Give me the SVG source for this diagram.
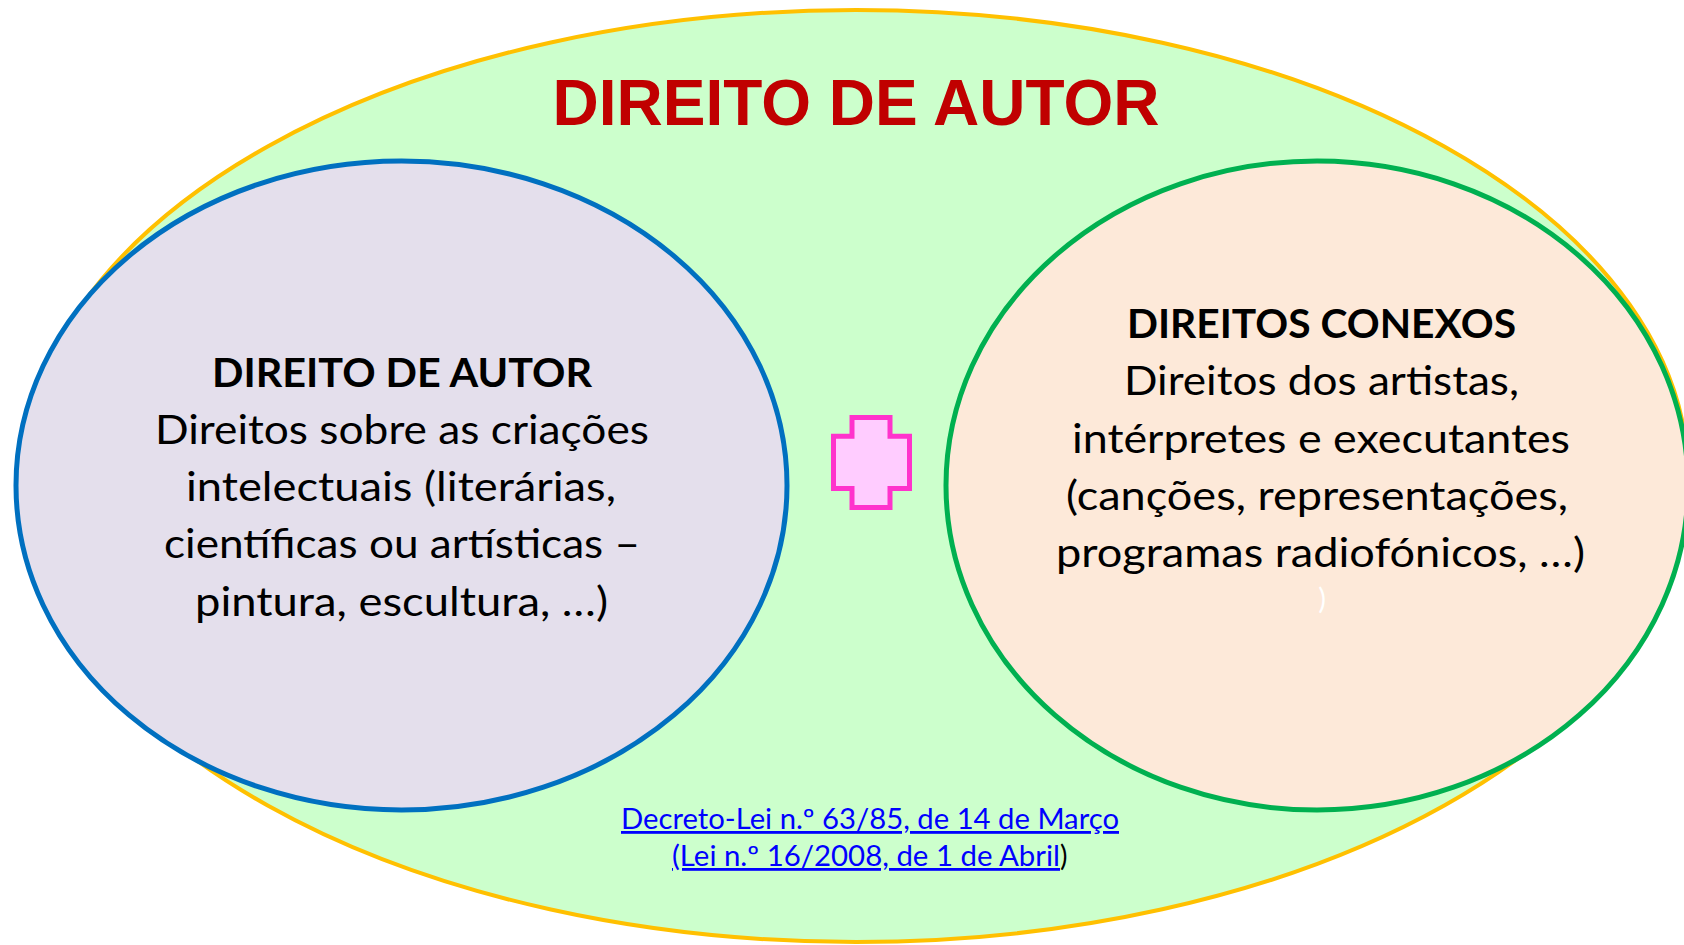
<svg xmlns="http://www.w3.org/2000/svg" width="1684" height="945" viewBox="0 0 1684 945">
<style>
.body{font-family:Lato,"Open Sans","Liberation Sans",sans-serif;font-size:40px;fill:#000000}
.bold{font-weight:700}
.link{font-family:Lato,"Open Sans","Liberation Sans",sans-serif;font-size:28px;fill:#0000FF;text-decoration:underline}
.plain{font-family:Lato,"Open Sans","Liberation Sans",sans-serif;font-size:28px;fill:#000000}
.title{font-family:"Liberation Sans",Arial,sans-serif;font-size:64px;font-weight:700;fill:#C00000}
</style>
<rect x="0" y="0" width="1684" height="945" fill="#FFFFFF"/>
<g id="outer">
<ellipse cx="856" cy="476" rx="832" ry="466" fill="#CCFFCC" stroke="#FFC000" stroke-width="4"/>
<text class="title" x="856" y="125" text-anchor="middle" textLength="607" lengthAdjust="spacingAndGlyphs">DIREITO DE AUTOR</text>
</g>
<g id="connectors"></g>
<g id="direito-autor">
<ellipse cx="401.5" cy="485.5" rx="385.5" ry="324.5" fill="#E4DFEC" stroke="#0070C0" stroke-width="5"/>
<text class="body bold" x="212" y="387" textLength="380" lengthAdjust="spacingAndGlyphs">DIREITO DE AUTOR</text>
<text class="body" x="155" y="444" textLength="494" lengthAdjust="spacingAndGlyphs">Direitos sobre as criações</text>
<text class="body" x="186" y="501" textLength="430" lengthAdjust="spacingAndGlyphs">intelectuais (literárias,</text>
<text class="body" x="164" y="558" textLength="476" lengthAdjust="spacingAndGlyphs">científicas ou artísticas –</text>
<text class="body" x="195" y="616" textLength="413" lengthAdjust="spacingAndGlyphs">pintura, escultura, …)</text>
</g>
<g id="direitos-conexos">
<ellipse cx="1317" cy="485.5" rx="371" ry="324.5" fill="#FDE9D9" stroke="#00B050" stroke-width="5"/>
<text class="body bold" x="1127" y="338" textLength="389" lengthAdjust="spacingAndGlyphs">DIREITOS CONEXOS</text>
<text class="body" x="1124" y="395" textLength="395" lengthAdjust="spacingAndGlyphs">Direitos dos artistas,</text>
<text class="body" x="1072" y="453" textLength="498" lengthAdjust="spacingAndGlyphs">intérpretes e executantes</text>
<text class="body" x="1066" y="510" textLength="502" lengthAdjust="spacingAndGlyphs">(canções, representações,</text>
<text class="body" x="1056" y="567" textLength="529" lengthAdjust="spacingAndGlyphs">programas radiofónicos, …)</text>
<text x="1322" y="609" text-anchor="middle" style="font-family:Lato,'Open Sans',sans-serif;font-size:29px;fill:#FFFFFF">)</text>
</g>
<g id="plus">
<polygon points="852,417.5 890,417.5 890,436.3 909.5,436.3 909.5,488.5 890,488.5 890,507.5 852,507.5 852,488.5 833.5,488.5 833.5,436.3 852,436.3" fill="#FFCCFF" stroke="#FF33CC" stroke-width="5"/>
</g>
<g id="legislacao">
<text class="link" x="621" y="829" textLength="498" lengthAdjust="spacingAndGlyphs">Decreto-Lei n.º 63/85, de 14 de Março</text>
<text class="link" x="672" y="866" textLength="388" lengthAdjust="spacingAndGlyphs">(Lei n.º 16/2008, de 1 de Abril</text>
<text class="plain" x="1060" y="866">)</text>
</g>
</svg>
